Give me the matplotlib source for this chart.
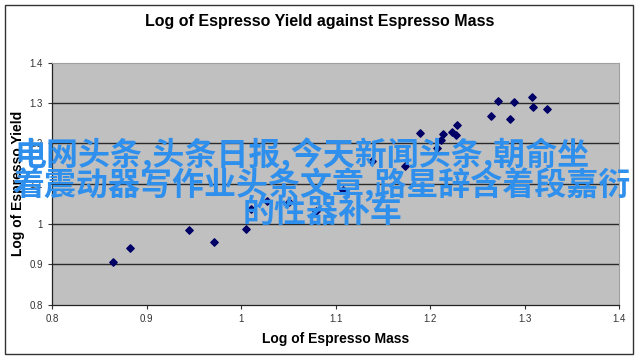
import numpy as np
import matplotlib
matplotlib.use('Agg')
import matplotlib.pyplot as plt
from matplotlib.patches import Rectangle

# log of espresso mass (x) and log of espresso yield (y)
log_mass = [0.865, 0.8825, 0.945, 0.971, 1.005, 1.011, 1.027, 1.051, 1.079, 1.108,
            1.139, 1.174, 1.189, 1.207, 1.212, 1.214, 1.223, 1.227, 1.228, 1.265,
            1.285, 1.272, 1.289, 1.308, 1.309, 1.324]
log_yield = [0.905, 0.942, 0.985, 0.955, 0.987, 1.037, 1.057, 1.056, 1.033, 1.085,
             1.157, 1.144, 1.225, 1.188, 1.208, 1.224, 1.229, 1.221, 1.247, 1.267,
             1.260, 1.306, 1.304, 1.315, 1.290, 1.286]

x_ticks = [0.8, 0.9, 1.0, 1.1, 1.2, 1.3, 1.4]
x_tick_labels = ['0.8', '0.9', '1', '1.1', '1.2', '1.3', '1.4']
y_ticks = [0.8, 0.9, 1.0, 1.1, 1.2, 1.3, 1.4]
y_tick_labels = ['0.8', '0.9', '1', '1.1', '1.2', '1.3', '1.4']

title = 'Log of Espresso Yield against Espresso Mass'
x_label = 'Log of Espresso Mass'
y_label = 'Log of Espresso Yield'

overlay_lines = ['电网头条,头条日报,今天新闻头条,朝俞坐',
                 '着震动器写作业头条文章,路星辞含着段嘉衍',
                 '的性器补车']

plt.rcParams['font.family'] = ['Liberation Sans', 'DejaVu Sans']

fig = plt.figure(figsize=(6.4, 3.59), dpi=100)
ax = fig.add_axes([0.0813, 0.151, 0.886, 0.674])
ax.set_facecolor('#c0c0c0')

# horizontal grid lines like excel
for yv in y_ticks[1:-1]:
    ax.axhline(yv, color='#2a2a2a', lw=1.0, zorder=1)

ax.scatter(log_mass, log_yield, marker='D', s=14, color='#000066', zorder=3)

ax.set_xlim(0.8, 1.4)
ax.set_ylim(0.8, 1.4)
ax.set_xticks(x_ticks)
ax.set_xticklabels(x_tick_labels)
ax.set_yticks(y_ticks)
ax.set_yticklabels(y_tick_labels)
ax.tick_params(labelsize=7, colors='#333333', length=3, width=0.8, direction='out')

for side in ['top', 'right']:
    ax.spines[side].set_color('#a0a0a0')
    ax.spines[side].set_linewidth(0.8)
for side in ['left', 'bottom']:
    ax.spines[side].set_color('#222222')
    ax.spines[side].set_linewidth(0.9)

ax.set_xlabel(x_label, fontsize=10, fontweight='bold', labelpad=6)
ax.set_ylabel(y_label, fontsize=10, fontweight='bold', labelpad=3)
fig.text(0.5, 0.939, title, ha='center', va='center', fontsize=11.5, fontweight='bold')

# outer chart border
fig.patches.append(Rectangle((5 / 640, 5 / 359), 628 / 640, 349 / 359, transform=fig.transFigure,
                             fill=False, edgecolor='#333333', lw=1.0))

# overlaid chinese text
line_x = [14, 12, 243]
line_y = [155, 185, 213]
for txt, lx, ly in zip(overlay_lines, line_x, line_y):
    fig.text(lx / 640, 1 - ly / 359, txt, ha='left', va='center', fontsize=23,
             color='#2f8fec', fontweight='bold', zorder=10,
             family=['Noto Sans CJK SC', 'DejaVu Sans'])

fig.savefig('out.png', dpi=100)
